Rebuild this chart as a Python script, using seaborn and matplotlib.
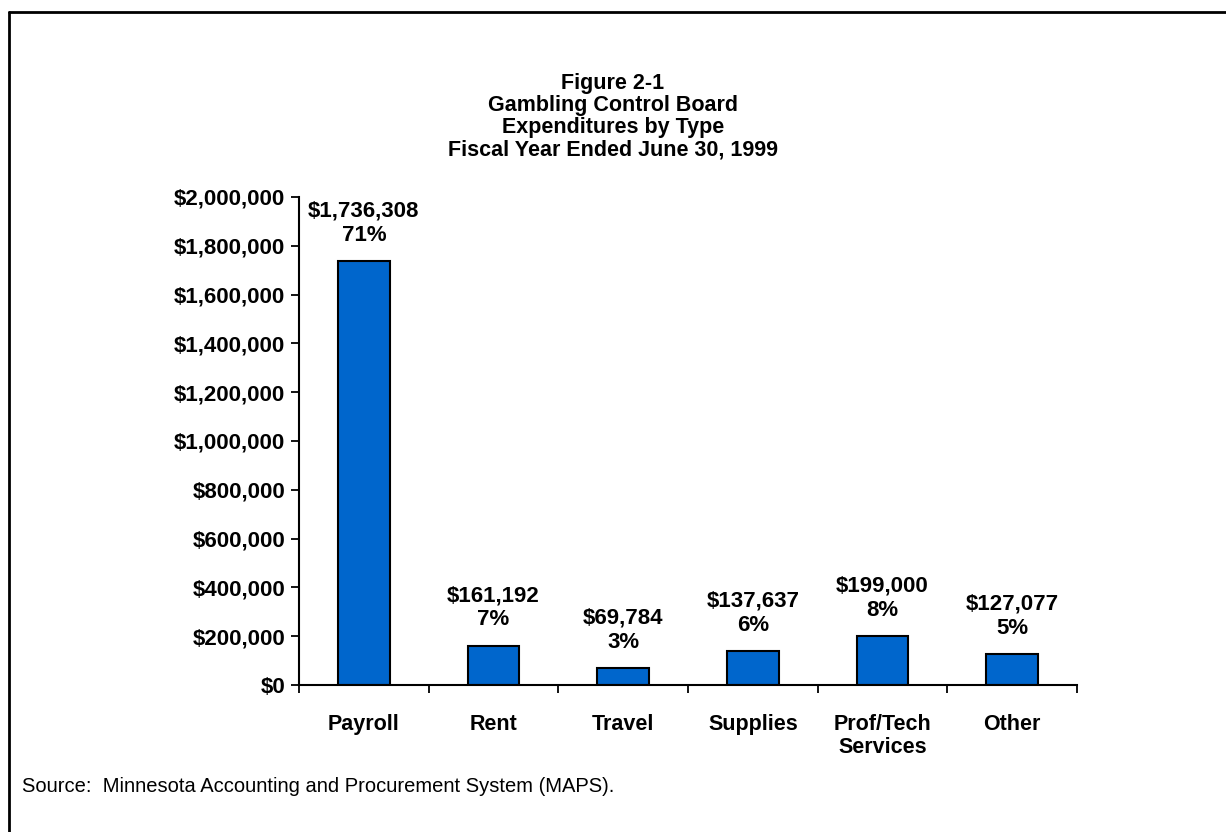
import matplotlib
matplotlib.use("Agg")
import matplotlib.pyplot as plt
import matplotlib.ticker as mticker
from matplotlib.lines import Line2D
import seaborn as sns
import pandas as pd

categories = ["Payroll", "Rent", "Travel", "Supplies", "Prof/Tech\nServices", "Other"]
values = [1736308, 161192, 69784, 137637, 199000, 127077]
percents = ["71%", "7%", "3%", "6%", "8%", "5%"]
yticks = [0, 200000, 400000, 600000, 800000, 1000000, 1200000, 1400000,
          1600000, 1800000, 2000000]
title_lines = ["Figure 2-1", "Gambling Control Board", "Expenditures by Type",
               "Fiscal Year Ended June 30, 1999"]
source_text = "Source:  Minnesota Accounting and Procurement System (MAPS)."

sns.set_theme(style="white")
plt.rcParams['font.family'] = ['Liberation Sans', 'DejaVu Sans']
plt.rcParams['text.color'] = 'black'
plt.rcParams['xtick.color'] = 'black'
plt.rcParams['ytick.color'] = 'black'

df = pd.DataFrame({"category": categories, "value": values})

W, H = 1226, 832
fig = plt.figure(figsize=(W / 100, H / 100), dpi=100)
fig.patch.set_facecolor("white")
ax = fig.add_axes([299 / W, 1 - 685 / H, (1077 - 299) / W, (685 - 197) / H])

bar_color = "#0066CC"
sns.barplot(data=df, x="category", y="value", color=bar_color, width=0.4,
            edgecolor="black", linewidth=1.5, saturation=1, ax=ax)

ax.set_ylim(0, 2000000)
ax.set_xlim(-0.5, len(categories) - 0.5)
ax.set_xlabel("")
ax.set_ylabel("")
ax.set_yticks(yticks)
ax.yaxis.set_major_formatter(mticker.FuncFormatter(lambda v, p: "${:,.0f}".format(v)))
for lab in ax.get_yticklabels():
    lab.set_fontweight("bold")
    lab.set_fontsize(16)
    lab.set_color("black")
ax.tick_params(axis="y", which="major", left=True, direction="out", length=6,
               width=1.3, color="black", pad=4)

ax.set_xticks(range(len(categories)))
ax.set_xticklabels(categories, fontsize=15.5, fontweight="bold", linespacing=1.12,
                   color="black")
ax.tick_params(axis="x", which="major", bottom=True, length=0, pad=21)
ax.set_xticks([i - 0.5 for i in range(len(categories) + 1)], minor=True)
ax.tick_params(axis="x", which="minor", bottom=True, direction="out", length=6,
               width=1.3, color="black")
for lab in ax.get_xticklabels():
    lab.set_verticalalignment("top")

for s in ["top", "right"]:
    ax.spines[s].set_visible(False)
for s in ["left", "bottom"]:
    ax.spines[s].set_color("black")
    ax.spines[s].set_linewidth(1.5)
ax.set_facecolor("white")
ax.grid(False)

for i, (v, p) in enumerate(zip(values, percents)):
    ax.annotate("${:,.0f}\n{}".format(v, p), xy=(i, v), xytext=(0, 11),
                textcoords="offset points", ha="center", va="bottom",
                fontsize=16, fontweight="bold", linespacing=1.2, color="black")

fig.text(613 / W, 1 - 73 / H, "\n".join(title_lines), ha="center", va="top",
         fontsize=15.5, fontweight="bold", linespacing=1.07, color="black")

fig.text(22 / W, 1 - 787 / H, source_text, ha="left", va="center", fontsize=14.5,
         color="black")

fig.add_artist(Line2D([8.5 / W, 1], [1 - 11.5 / H, 1 - 11.5 / H], color="black",
                      linewidth=2, transform=fig.transFigure))
fig.add_artist(Line2D([8.5 / W, 8.5 / W], [0, 1 - 11.5 / H], color="black",
                      linewidth=2, transform=fig.transFigure))

fig.savefig("out.png", dpi=100, facecolor="white")
